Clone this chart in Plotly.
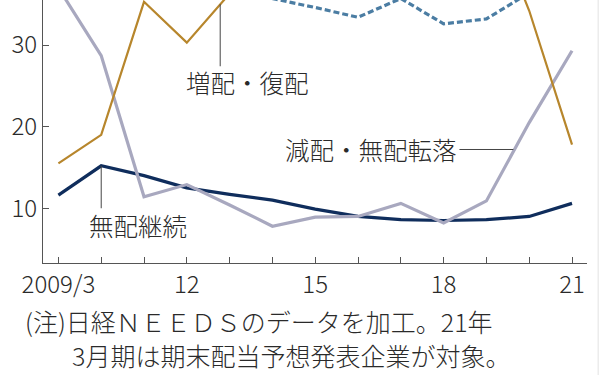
import plotly.graph_objects as go

years = list(range(2009, 2022))
tick_labels = ["2009/3", "", "", "12", "", "", "15", "", "", "18", "", "", "21"]

# 増配・復配
increase = [15.5, 19.0, 35.3, 30.3, 36.3, 45.5, 46.6, 48.6, 45.0, 50.7, 47.3, 34.2, 17.8]
# 減配・無配転落
cut = [37.0, 28.7, 11.4, 12.9, 10.4, 7.8, 8.9, 9.0, 10.6, 8.2, 10.9, 20.5, 29.3]
# 無配継続
no_div = [11.6, 15.2, 14.0, 12.5, 11.7, 11.0, 9.9, 9.0, 8.6, 8.5, 8.6, 9.0, 10.6]
# 維持 (top of chart, mostly cropped)
unchanged = [36.2, 37.1, 39.3, 44.3, 41.6, 35.7, 34.6, 33.4, 35.7, 32.6, 33.2, 36.4, 42.4]

y_ticks = [10, 20, 30]

JP = "Noto Sans CJK JP"
TXT = "#2a2a2a"
AX = "#555555"

fig = go.Figure()
fig.add_trace(go.Scatter(x=years, y=unchanged, mode="lines", name="維持",
                         line=dict(color="#4b7da3", width=3.2, dash="6px,3px")))
fig.add_trace(go.Scatter(x=years, y=no_div, mode="lines", name="無配継続",
                         line=dict(color="#0f2d5c", width=3.2)))
fig.add_trace(go.Scatter(x=years, y=cut, mode="lines", name="減配・無配転落",
                         line=dict(color="#a8a8bf", width=3.2)))
fig.add_trace(go.Scatter(x=years, y=increase, mode="lines", name="増配・復配",
                         line=dict(color="#b7862c", width=2.2)))

# leader lines
leader = dict(color="#444444", width=1)
fig.add_shape(type="line", xref="x", yref="y", x0=2012.78, x1=2012.78, y0=35.0, y1=27.4, line=leader)
fig.add_shape(type="line", xref="x", yref="y", x0=2018.37, x1=2019.63, y0=17.2, y1=17.2, line=leader)
fig.add_shape(type="line", xref="x", yref="y", x0=2010, x1=2010, y0=15.2, y1=10.0, line=leader)
# faint right border
fig.add_shape(type="line", xref="paper", yref="paper", x0=1.0205, x1=1.0205, y0=-0.43, y1=1.0,
              line=dict(color="#e2e2e2", width=1))

lab = dict(family=JP, size=24.5, color=TXT, weight=300)
fig.add_annotation(x=2013.42, y=25.4, xref="x", yref="y", text="増配・復配", showarrow=False,
                   xanchor="center", yanchor="middle", font=lab)
fig.add_annotation(x=2018.35, y=17.2, xref="x", yref="y", text="減配・無配転落", showarrow=False,
                   xanchor="right", yanchor="middle", font=lab)
fig.add_annotation(x=2009.67, y=7.9, xref="x", yref="y", text="無配継続", showarrow=False,
                   xanchor="left", yanchor="middle", font=lab)

# footnote
foot = dict(family=JP, size=25, color=TXT, weight=300)
fig.add_annotation(x=-0.036, y=-0.222, xref="paper", yref="paper",
                   text="(注)日経ＮＥＥＤＳのデータを加工。21年", showarrow=False,
                   xanchor="left", yanchor="middle", font=foot)
fig.add_annotation(x=0.05, y=-0.35, xref="paper", yref="paper",
                   text="3月期は期末配当予想発表企業が対象。", showarrow=False,
                   xanchor="left", yanchor="middle", font=foot)

tickfont = dict(family=JP, size=24, color=TXT, weight=300)
fig.update_layout(
    width=600, height=375, autosize=False,
    margin=dict(l=43, r=13, t=0, b=112, pad=0),
    plot_bgcolor="white", paper_bgcolor="white",
    showlegend=False,
    xaxis=dict(range=[2008.64, 2021.35], tickvals=years, ticktext=tick_labels,
               showline=True, linecolor=AX, linewidth=1, ticks="inside", ticklen=6,
               tickcolor=AX, tickwidth=1, showgrid=False, zeroline=False,
               tickfont=tickfont),
    yaxis=dict(range=[3.29, 35.52], tickvals=y_ticks,
               showline=True, linecolor=AX, linewidth=1, ticks="inside", ticklen=6,
               tickcolor=AX, tickwidth=1, showgrid=False, zeroline=False,
               tickfont=tickfont),
)

fig.write_html("out.html", config={"displayModeBar": False},
               post_script="document.body.style.margin='0';document.body.style.overflow='hidden';")
